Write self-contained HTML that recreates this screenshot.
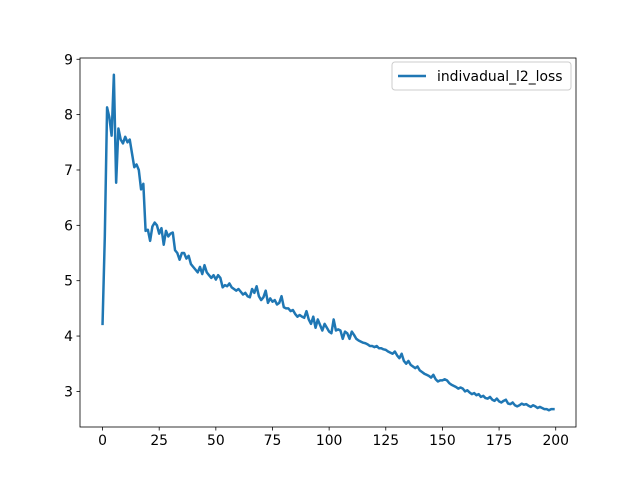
<!DOCTYPE html>
<html><head><meta charset="utf-8"><style>
html,body{margin:0;padding:0;background:#fff;}
svg{display:block;font-family:"DejaVu Sans","Liberation Sans",sans-serif;}
</style></head><body>
<svg id="chart" width="640" height="480" viewBox="0 0 640 480" xmlns="http://www.w3.org/2000/svg">
<rect x="0" y="0" width="640" height="480" fill="#fff"/>
<g id="plot"></g>
<g id="xticks"></g>
<g id="yticks"></g>
<rect x="80" y="58" width="496" height="369" fill="none" stroke="#000" stroke-width="0.8"/>
<g>
<rect x="392" y="62" width="179" height="28" rx="3" fill="#fff" fill-opacity="0.8" stroke="#ccc" stroke-width="1"/>
<line x1="398" y1="76" x2="426" y2="76" stroke="#1f77b4" stroke-width="2.5"/>
<text x="437" y="81" font-size="13.9" fill="#000">indivadual_l2_loss</text>
</g>
</svg>
<script>
const xTicks = [0, 25, 50, 75, 100, 125, 150, 175, 200];
const yTicks = [3, 4, 5, 6, 7, 8, 9];
const lossValues = [
4.22,5.8,8.13,7.95,7.62,8.72,6.77,7.75,7.55,7.48,
7.6,7.5,7.55,7.3,7.05,7.1,7.0,6.65,6.75,5.9,
5.92,5.72,5.98,6.05,6.0,5.85,5.95,5.65,5.9,5.8,
5.85,5.87,5.55,5.5,5.38,5.5,5.5,5.4,5.45,5.3,
5.25,5.2,5.15,5.25,5.12,5.28,5.15,5.1,5.05,5.1,
5.02,5.1,5.05,4.88,4.92,4.9,4.95,4.88,4.85,4.82,
4.85,4.8,4.75,4.78,4.72,4.7,4.85,4.78,4.9,4.72,
4.65,4.7,4.82,4.6,4.68,4.62,4.65,4.57,4.6,4.72,
4.52,4.5,4.5,4.45,4.47,4.4,4.35,4.38,4.35,4.33,
4.45,4.3,4.22,4.35,4.15,4.3,4.2,4.1,4.22,4.15,
4.08,4.05,4.3,4.1,4.12,4.1,3.95,4.08,4.05,3.95,
4.08,4.02,3.95,3.92,3.9,3.88,3.87,3.85,3.82,3.82,
3.8,3.82,3.78,3.78,3.76,3.75,3.72,3.7,3.68,3.72,
3.65,3.6,3.68,3.55,3.5,3.55,3.48,3.45,3.42,3.45,
3.38,3.35,3.32,3.3,3.28,3.25,3.3,3.22,3.18,3.2,
3.2,3.22,3.2,3.15,3.12,3.1,3.08,3.05,3.07,3.05,
3.0,3.02,2.98,2.95,2.97,2.93,2.95,2.9,2.92,2.88,
2.87,2.9,2.85,2.83,2.87,2.82,2.8,2.83,2.85,2.78,
2.77,2.8,2.75,2.73,2.75,2.78,2.76,2.77,2.74,2.72,
2.75,2.73,2.7,2.72,2.7,2.68,2.68,2.66,2.68,2.68
];
const NS = "http://www.w3.org/2000/svg";
const L = 80, R = 576, T = 58, B = 427;
const n = lossValues.length;
const xmin0 = 0, xmax0 = n - 1, xm = (xmax0 - xmin0) * 0.05;
const xMin = xmin0 - xm, xMax = xmax0 + xm;
const ymin0 = Math.min(...lossValues), ymax0 = Math.max(...lossValues), ym = (ymax0 - ymin0) * 0.05;
const yMin = ymin0 - ym, yMax = ymax0 + ym;
function xs(v){ return L + (v - xMin) / (xMax - xMin) * (R - L); }
function ys(v){ return B - (v - yMin) / (yMax - yMin) * (B - T); }

const plot = document.getElementById('plot');
const path = document.createElementNS(NS, 'path');
path.setAttribute('d', lossValues.map((v, i) => (i ? 'L' : 'M') + xs(i).toFixed(2) + ',' + ys(v).toFixed(2)).join(' '));
path.setAttribute('fill', 'none');
path.setAttribute('stroke', '#1f77b4');
path.setAttribute('stroke-width', '2.5');
path.setAttribute('stroke-linejoin', 'round');
path.setAttribute('stroke-linecap', 'square');


plot.appendChild(path);

const xg = document.getElementById('xticks');
xTicks.forEach(t => {
  const x = xs(t);
  const ln = document.createElementNS(NS, 'line');
  ln.setAttribute('x1', x); ln.setAttribute('x2', x);
  ln.setAttribute('y1', B); ln.setAttribute('y2', B + 3.5);
  ln.setAttribute('stroke', '#000'); ln.setAttribute('stroke-width', '0.8');
  
  
  xg.appendChild(ln);
  const tx = document.createElementNS(NS, 'text');
  tx.setAttribute('x', x); tx.setAttribute('y', B + 18);
  tx.setAttribute('text-anchor', 'middle'); tx.setAttribute('font-size', '13.9');
  tx.textContent = String(t);
  
  
  xg.appendChild(tx);
});
const yg = document.getElementById('yticks');
yTicks.forEach(t => {
  const y = ys(t);
  const ln = document.createElementNS(NS, 'line');
  ln.setAttribute('x1', L - 3.5); ln.setAttribute('x2', L);
  ln.setAttribute('y1', y); ln.setAttribute('y2', y);
  ln.setAttribute('stroke', '#000'); ln.setAttribute('stroke-width', '0.8');
  
  
  yg.appendChild(ln);
  const tx = document.createElementNS(NS, 'text');
  tx.setAttribute('x', L - 7); tx.setAttribute('y', y + 5);
  tx.setAttribute('text-anchor', 'end'); tx.setAttribute('font-size', '13.9');
  tx.textContent = String(t);
  
  
  yg.appendChild(tx);
});
</script>
</body></html>
